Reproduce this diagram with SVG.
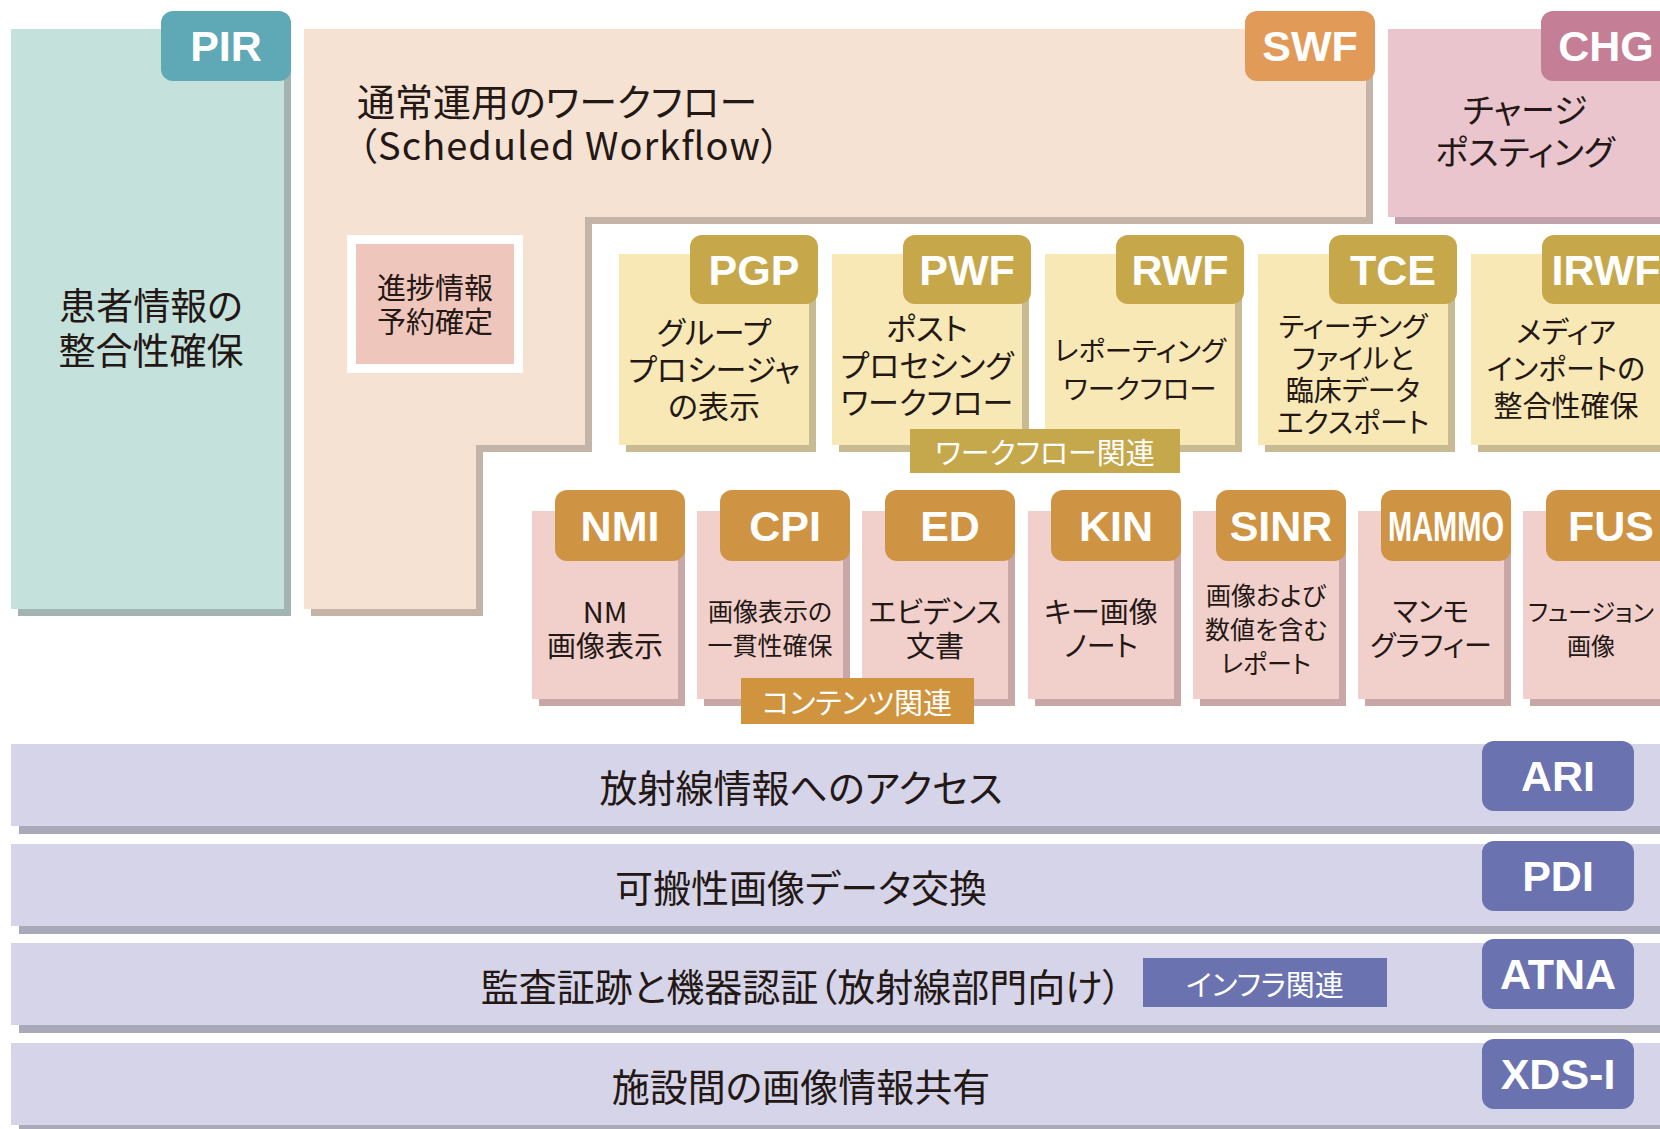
<svg xmlns="http://www.w3.org/2000/svg" width="1660" height="1129" viewBox="0 0 1660 1129">
<style>
.jp{font-family:"Noto Sans CJK JP","Noto Sans",sans-serif;font-feature-settings:"palt" 1;fill:#231815;text-anchor:middle;dominant-baseline:central}
.title{font-family:"Noto Sans CJK JP","Noto Sans",sans-serif;font-feature-settings:"palt" 1;fill:#231815;text-anchor:start;dominant-baseline:central;font-size:38px}
.tab{font-family:"Liberation Sans",Arial,sans-serif;font-weight:700;font-size:43px;fill:#fff;text-anchor:middle;dominant-baseline:central}
.lbl{font-family:"Noto Sans CJK JP","Noto Sans",sans-serif;font-feature-settings:"palt" 1;font-size:29px;fill:#fff;text-anchor:middle;dominant-baseline:central}
.wfb{fill:#f8e8b5}.wfs{fill:#c9bb91}.wft{fill:#c6a84b}
.ctb{fill:#f1cfca}.cts{fill:#c7a8a6}.ctt{fill:#cf9443}
.bar{fill:#d5d4e8}.bars{fill:#a9a9ba}.bart{fill:#6a72b0}
</style>
<rect width="1660" height="1129" fill="#fff"/>

<g id="PIR">
<rect x="18" y="36" width="273" height="580" fill="#a2b4b1"/>
<rect x="11" y="29" width="273" height="580" fill="#c5e1dc"/>
<rect x="161" y="11" width="130" height="70" rx="12" fill="#5fa8b5"/>
<text class="tab" x="226" y="46">PIR</text>
<text class="jp" font-size="37"><tspan x="151" y="304">患者情報の</tspan><tspan x="151" y="349">整合性確保</tspan></text>
</g>

<g id="SWF">
<polygon points="311,36 1373,36 1373,224 592,224 592,452 483,452 483,616 311,616" fill="#c4b4a7"/>
<polygon points="304,29 1366,29 1366,217 585,217 585,445 476,445 476,609 304,609" fill="#f5e2d3"/>
<rect x="1245" y="11" width="130" height="70" rx="12" fill="#e29a58"/>
<text class="tab" x="1310" y="46">SWF</text>
<text class="title"><tspan x="357" y="99">通常運用のワークフロー</tspan><tspan x="358" y="143" textLength="422" lengthAdjust="spacing">（Scheduled Workflow）</tspan></text>
</g>

<g id="progress">
<rect x="347" y="235" width="176" height="138" fill="#fff"/>
<rect x="356" y="244" width="158" height="120" fill="#efc6bb"/>
<text class="jp" font-size="29"><tspan x="435" y="286">進捗情報</tspan><tspan x="435" y="320">予約確定</tspan></text>
</g>

<g id="CHG">
<rect x="1395" y="36" width="300" height="188" fill="#c1a1ac"/>
<rect x="1388" y="29" width="300" height="188" fill="#eac5ce"/>
<rect x="1541" y="11" width="140" height="70" rx="12" fill="#c47e95"/>
<text class="tab" x="1606" y="46">CHG</text>
<text class="jp" font-size="34"><tspan x="1525" y="108">チャージ</tspan><tspan x="1525" y="150">ポスティング</tspan></text>
</g>

<g id="PGP">
<rect class="wfs" x="626" y="261" width="190" height="191"/>
<rect class="wfb" x="619" y="254" width="190" height="191"/>
<rect class="wft" x="690" y="235" width="128" height="69" rx="12"/>
<text class="tab" x="754" y="270">PGP</text>
<text class="jp" font-size="31"><tspan x="714" y="330">グループ</tspan><tspan x="714" y="367">プロシージャ</tspan><tspan x="714" y="404">の表示</tspan></text>
</g>

<g id="PWF">
<rect class="wfs" x="839" y="261" width="190" height="191"/>
<rect class="wfb" x="832" y="254" width="190" height="191"/>
<rect class="wft" x="903" y="235" width="128" height="69" rx="12"/>
<text class="tab" x="967" y="270">PWF</text>
<text class="jp" font-size="31"><tspan x="927" y="326">ポスト</tspan><tspan x="927" y="363">プロセシング</tspan><tspan x="927" y="400">ワークフロー</tspan></text>
</g>

<g id="RWF">
<rect class="wfs" x="1052" y="261" width="190" height="191"/>
<rect class="wfb" x="1045" y="254" width="190" height="191"/>
<rect class="wft" x="1116" y="235" width="128" height="69" rx="12"/>
<text class="tab" x="1180" y="270">RWF</text>
<text class="jp" font-size="27.5"><tspan x="1140" y="349">レポーティング</tspan><tspan x="1140" y="387">ワークフロー</tspan></text>
</g>

<g id="TCE">
<rect class="wfs" x="1265" y="261" width="190" height="191"/>
<rect class="wfb" x="1258" y="254" width="190" height="191"/>
<rect class="wft" x="1329" y="235" width="128" height="69" rx="12"/>
<text class="tab" x="1393" y="270">TCE</text>
<text class="jp" font-size="28"><tspan x="1353" y="325">ティーチング</tspan><tspan x="1353" y="357">ファイルと</tspan><tspan x="1353" y="389">臨床データ</tspan><tspan x="1353" y="421">エクスポート</tspan></text>
</g>

<g id="IRWF">
<rect class="wfs" x="1478" y="261" width="190" height="191"/>
<rect class="wfb" x="1471" y="254" width="190" height="191"/>
<rect class="wft" x="1542" y="235" width="140" height="69" rx="12"/>
<text class="tab" x="1606" y="270">IRWF</text>
<text class="jp" font-size="29"><tspan x="1566" y="330">メディア</tspan><tspan x="1566" y="367">インポートの</tspan><tspan x="1566" y="404">整合性確保</tspan></text>
</g>

<g id="workflow-label">
<rect x="910" y="429" width="270" height="44" fill="#c5a84b"/>
<text class="lbl" x="1045" y="451">ワークフロー関連</text>
</g>

<g id="NMI">
<rect class="cts" x="539" y="518" width="146" height="188"/>
<rect class="ctb" x="532" y="511" width="146" height="188"/>
<rect class="ctt" x="555" y="490" width="130" height="71" rx="12"/>
<text class="tab" x="620" y="526">NMI</text>
<text class="jp" font-size="29"><tspan x="605" y="610">NM</tspan><tspan x="605" y="644">画像表示</tspan></text>
</g>

<g id="CPI">
<rect class="cts" x="704" y="518" width="146" height="188"/>
<rect class="ctb" x="697" y="511" width="146" height="188"/>
<rect class="ctt" x="720" y="490" width="130" height="71" rx="12"/>
<text class="tab" x="785" y="526">CPI</text>
<text class="jp" font-size="25"><tspan x="770" y="610">画像表示の</tspan><tspan x="770" y="644">一貫性確保</tspan></text>
</g>

<g id="ED">
<rect class="cts" x="869" y="518" width="146" height="188"/>
<rect class="ctb" x="862" y="511" width="146" height="188"/>
<rect class="ctt" x="885" y="490" width="130" height="71" rx="12"/>
<text class="tab" x="950" y="526">ED</text>
<text class="jp" font-size="29"><tspan x="935" y="610">エビデンス</tspan><tspan x="935" y="644">文書</tspan></text>
</g>

<g id="KIN">
<rect class="cts" x="1035" y="518" width="146" height="188"/>
<rect class="ctb" x="1028" y="511" width="146" height="188"/>
<rect class="ctt" x="1051" y="490" width="130" height="71" rx="12"/>
<text class="tab" x="1116" y="526">KIN</text>
<text class="jp" font-size="29"><tspan x="1101" y="610">キー画像</tspan><tspan x="1101" y="644">ノート</tspan></text>
</g>

<g id="SINR">
<rect class="cts" x="1200" y="518" width="146" height="188"/>
<rect class="ctb" x="1193" y="511" width="146" height="188"/>
<rect class="ctt" x="1216" y="490" width="130" height="71" rx="12"/>
<text class="tab" x="1281" y="526">SINR</text>
<text class="jp" font-size="25"><tspan x="1266" y="594">画像および</tspan><tspan x="1266" y="628">数値を含む</tspan><tspan x="1266" y="662">レポート</tspan></text>
</g>

<g id="MAMMO">
<rect class="cts" x="1365" y="518" width="146" height="188"/>
<rect class="ctb" x="1358" y="511" width="146" height="188"/>
<rect class="ctt" x="1381" y="490" width="130" height="71" rx="12"/>
<text class="tab" x="1446" y="526" textLength="116" lengthAdjust="spacingAndGlyphs">MAMMO</text>
<text class="jp" font-size="28"><tspan x="1431" y="610">マンモ</tspan><tspan x="1431" y="644">グラフィー</tspan></text>
</g>

<g id="FUS">
<rect class="cts" x="1530" y="518" width="146" height="188"/>
<rect class="ctb" x="1523" y="511" width="146" height="188"/>
<rect class="ctt" x="1546" y="490" width="130" height="71" rx="12"/>
<text class="tab" x="1611" y="526">FUS</text>
<text class="jp" font-size="24"><tspan x="1591" y="610">フュージョン</tspan><tspan x="1591" y="644">画像</tspan></text>
</g>

<g id="content-label">
<rect x="741" y="678" width="233" height="46" fill="#d0943f"/>
<text class="lbl" x="857" y="701">コンテンツ関連</text>
</g>

<g id="ARI">
<rect class="bars" x="19" y="752" width="1660" height="82"/>
<rect class="bar" x="11" y="744" width="1660" height="82"/>
<text class="jp" x="801" y="785" font-size="38">放射線情報へのアクセス</text>
<rect class="bart" x="1482" y="741" width="152" height="70" rx="12"/>
<text class="tab" x="1558" y="776" font-size="44">ARI</text>
</g>

<g id="PDI">
<rect class="bars" x="19" y="852" width="1660" height="82"/>
<rect class="bar" x="11" y="844" width="1660" height="82"/>
<text class="jp" x="801" y="885" font-size="38">可搬性画像データ交換</text>
<rect class="bart" x="1482" y="841" width="152" height="70" rx="12"/>
<text class="tab" x="1558" y="876" font-size="44">PDI</text>
</g>

<g id="ATNA">
<rect class="bars" x="19" y="951" width="1660" height="82"/>
<rect class="bar" x="11" y="943" width="1660" height="82"/>
<text class="jp" x="801" y="984" font-size="38">監査証跡と機器認証（放射線部門向け）</text>
<rect class="bart" x="1482" y="939" width="152" height="70" rx="12"/>
<text class="tab" x="1558" y="974" font-size="44">ATNA</text>
</g>

<g id="infra-label">
<rect x="1143" y="958" width="244" height="49" fill="#6a72b0"/>
<text class="lbl" x="1265" y="983">インフラ関連</text>
</g>

<g id="XDS-I">
<rect class="bars" x="19" y="1051" width="1660" height="82"/>
<rect class="bar" x="11" y="1043" width="1660" height="82"/>
<text class="jp" x="801" y="1084" font-size="38">施設間の画像情報共有</text>
<rect class="bart" x="1482" y="1039" width="152" height="70" rx="12"/>
<text class="tab" x="1558" y="1074" font-size="44">XDS-I</text>
</g>

<g id="connectors"/>
</svg>
